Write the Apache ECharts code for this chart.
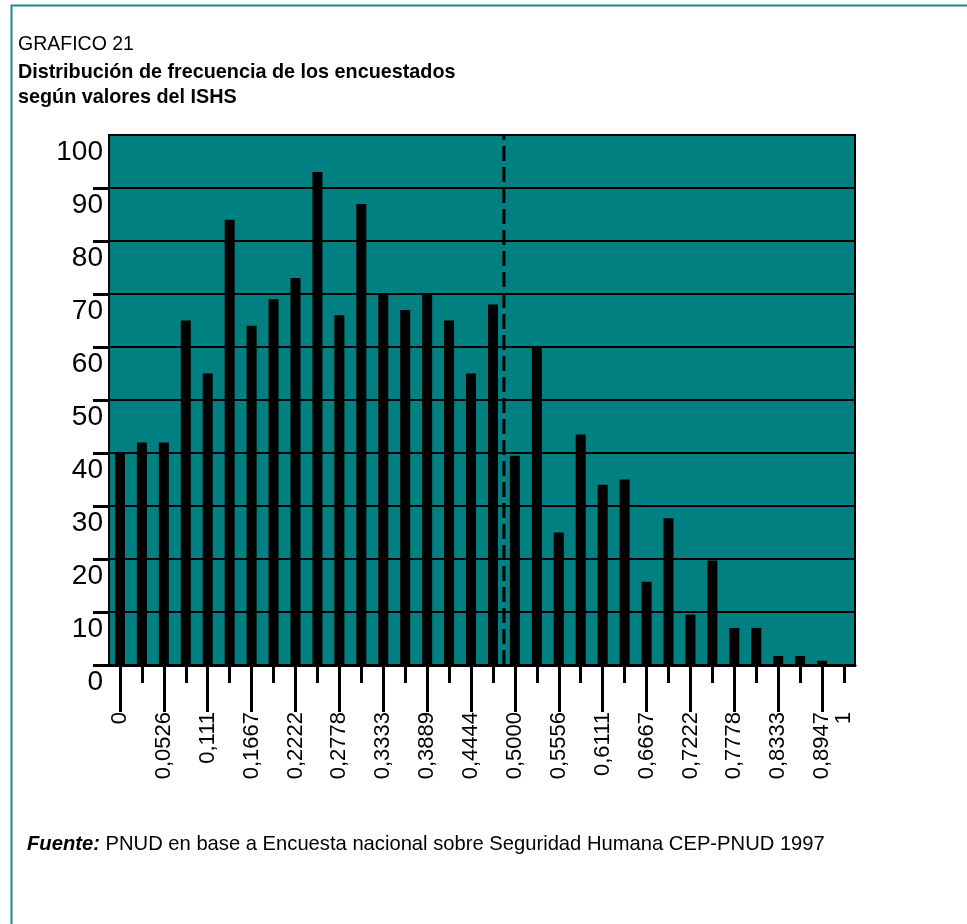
<!DOCTYPE html>
<html>
<head>
<meta charset="utf-8">
<title>GRAFICO 21</title>
<script src="https://cdn.jsdelivr.net/npm/echarts@6/dist/echarts.min.js"></script>
<style>
  html, body { margin: 0; padding: 0; background: #fff; }
  #chart { width: 967px; height: 924px; }
</style>
</head>
<body>
<div id="chart"></div>
<script>
// ISHS values on the x axis (only every other one is labelled)
const ishsLabels = [
  '0', '', '0,0526', '', '0,111', '', '0,1667', '', '0,2222', '',
  '0,2778', '', '0,3333', '', '0,3889', '', '0,4444', '', '0,5000', '',
  '0,5556', '', '0,6111', '', '0,6667', '', '0,7222', '', '0,7778', '',
  '0,8333', '', '0,8947', '1'
];
// number of respondents per ISHS value
const frequency = [
  40, 42, 42, 65, 55, 84, 64, 69, 73, 93,
  66, 87, 70, 67, 70, 65, 55, 68, 39.5, 60,
  25, 43.5, 34, 35, 15.7, 27.7, 9.5, 19.7, 7, 7,
  1.7, 1.7, 0.8, 0
];
const yTicks = [0, 10, 20, 30, 40, 50, 60, 70, 80, 90, 100];
// dashed cut line, on the left edge of the 0,5000 category
const cutAt = 18;

const font = "'Liberation Sans', Arial, Helvetica, sans-serif";
const teal = '#008080';

const chart = echarts.init(document.getElementById('chart'));

const option = {
  backgroundColor: '#fff',
  animation: false,
  graphic: [
    {
      type: 'rect',
      left: 9, top: 3,
      shape: { width: 1000, height: 1000 },
      style: { fill: 'none', stroke: '#1a8a86', lineWidth: 2 },
      silent: true
    },
    {
      type: 'text', left: 18, top: 35,
      style: { text: 'GRAFICO 21', font: '19.5px ' + font, fill: '#000' }
    },
    {
      type: 'text', left: 18, top: 63,
      style: { text: 'Distribución de frecuencia de los encuestados', font: 'bold 19.8px ' + font, fill: '#000' }
    },
    {
      type: 'text', left: 18, top: 88,
      style: { text: 'según valores del ISHS', font: 'bold 19.8px ' + font, fill: '#000' }
    },
    {
      type: 'text', left: 27, top: 834,
      style: {
        text: '{b|Fuente:} PNUD en base a Encuesta nacional sobre Seguridad Humana CEP-PNUD 1997',
        font: '20.2px ' + font,
        fill: '#000',
        rich: {
          b: { fontWeight: 'bold', fontStyle: 'italic', fontSize: 20.2, fontFamily: font }
        }
      }
    }
  ],
  grid: {
    left: 109, right: 112, top: 135, bottom: 259,
    show: true,
    backgroundColor: teal,
    borderColor: '#000',
    borderWidth: 2
  },
  xAxis: [
    {
      // short ticks + labels
      type: 'category',
      position: 'bottom',
      data: ishsLabels,
      axisLine: { show: true, lineStyle: { color: '#000', width: 3 } },
      axisTick: {
        show: true,
        alignWithLabel: true,
        interval: (i) => i % 2 === 1,
        length: 18,
        lineStyle: { color: '#000', width: 3 }
      },
      axisLabel: {
        interval: 0,
        rotate: 90,
        margin: 47,
        color: '#000',
        fontSize: 22,
        fontFamily: font
      },
      splitLine: { show: false }
    },
    {
      // long ticks at the labelled values
      type: 'category',
      position: 'bottom',
      data: ishsLabels,
      axisLine: { show: false },
      axisTick: {
        show: true,
        alignWithLabel: true,
        interval: (i) => i % 2 === 0 && i < ishsLabels.length - 1,
        length: 47,
        lineStyle: { color: '#000', width: 3 }
      },
      axisLabel: { show: false },
      splitLine: { show: false }
    },
    {
      // helper axis for the cut line
      type: 'value',
      show: false,
      min: 0,
      max: ishsLabels.length
    }
  ],
  yAxis: {
    type: 'value',
    min: yTicks[0],
    max: yTicks[yTicks.length - 1],
    interval: 10,
    axisLine: { show: true, lineStyle: { color: '#000', width: 2 } },
    axisTick: {
      show: true,
      customValues: yTicks.slice(0, -1),
      length: 16,
      lineStyle: { color: '#000', width: 3 }
    },
    axisLabel: {
      color: '#000',
      fontSize: 28,
      fontFamily: font,
      margin: 6,
      verticalAlign: 'top',
      lineHeight: 34
    },
    splitLine: { show: true, lineStyle: { color: '#000', width: 2 } }
  },
  series: [
    {
      name: 'Frecuencia',
      type: 'bar',
      xAxisIndex: 0,
      data: frequency,
      barWidth: 10,
      itemStyle: { color: '#000' }
    },
    {
      name: 'corte',
      type: 'line',
      xAxisIndex: 2,
      data: [[cutAt, yTicks[0]], [cutAt, yTicks[yTicks.length - 1]]],
      symbol: 'none',
      silent: true,
      z: 5,
      lineStyle: { color: '#000', width: 3, type: [15, 6] }
    }
  ]
};

chart.setOption(option);
</script>
</body>
</html>
